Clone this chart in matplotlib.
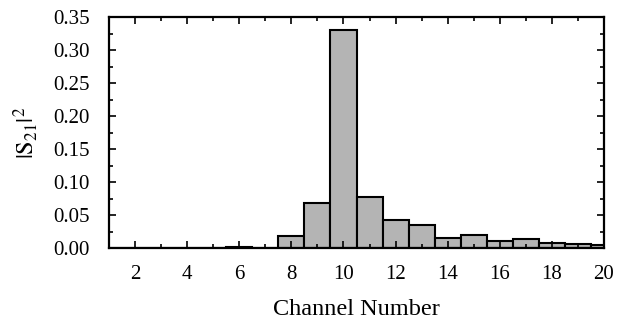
import matplotlib
matplotlib.use("Agg")
import matplotlib.pyplot as plt
from matplotlib.ticker import MultipleLocator

plt.rcParams['font.family'] = ['Liberation Serif', 'DejaVu Serif']
plt.rcParams['mathtext.fontset'] = 'stix'

channels = list(range(1, 21))
s21_sq = [0.0, 0.0, 0.0, 0.0, 0.0005, 0.001, 0.0003, 0.019, 0.0685, 0.331,
          0.0776, 0.0423, 0.0353, 0.0146, 0.0197, 0.0106, 0.0136, 0.008, 0.007, 0.0045]

fig = plt.figure(figsize=(6.23, 3.21), dpi=100)
ax = fig.add_axes([0.175, 0.227, 0.7945, 0.72])

ax.bar(channels, s21_sq, width=1.0, color='#b4b4b4', edgecolor='black', linewidth=1.5)

ax.set_xlim(1, 20)
ax.set_ylim(0, 0.35)
ax.xaxis.set_major_locator(MultipleLocator(2))
ax.xaxis.set_minor_locator(MultipleLocator(1))
ax.yaxis.set_major_locator(MultipleLocator(0.05))
ax.yaxis.set_minor_locator(MultipleLocator(0.025))
ax.yaxis.set_major_formatter(plt.FormatStrFormatter('%.2f'))

ax.tick_params(which='both', direction='in', top=True, right=True, width=1.2)
ax.tick_params(which='major', length=5, labelsize=15)
ax.tick_params(which='minor', length=3)
ax.tick_params(axis='x', which='major', pad=12)
ax.tick_params(axis='y', which='major', pad=14)
for sp in ax.spines.values():
    sp.set_linewidth(1.6)

ax.set_xlabel("Channel Number", fontsize=17.5, labelpad=11)
ax.set_ylabel(r"$|\mathrm{S}_{21}|^{2}$", fontsize=17.5, labelpad=9)

fig.savefig("out.png", dpi=100)
